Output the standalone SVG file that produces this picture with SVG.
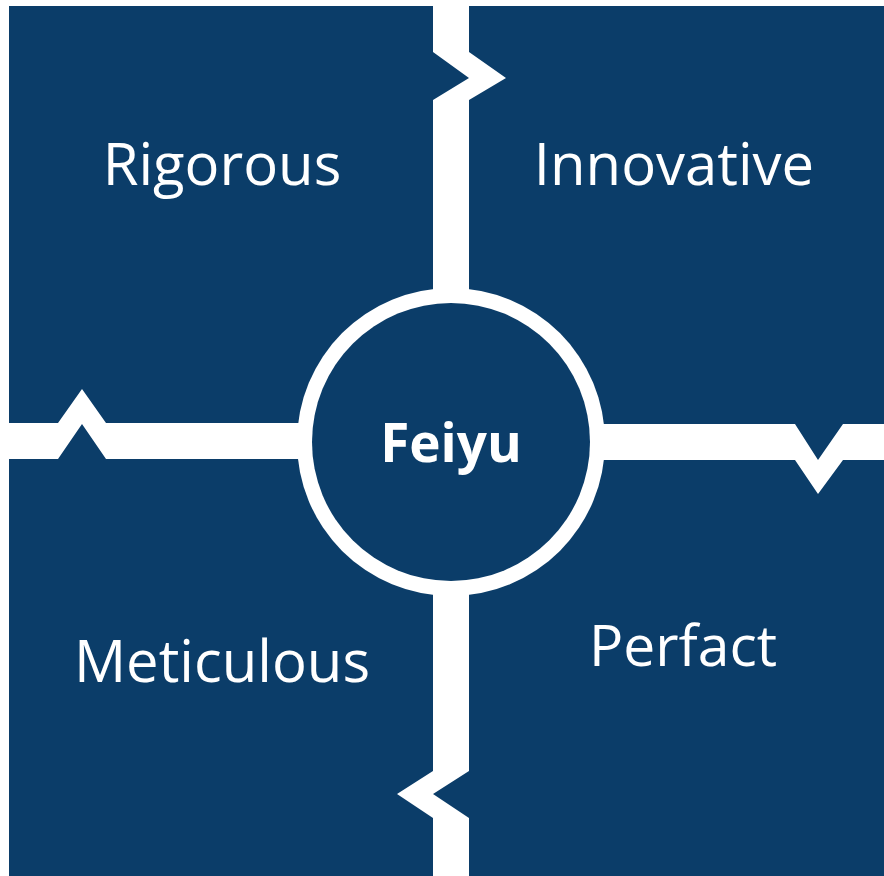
<svg xmlns="http://www.w3.org/2000/svg" width="884" height="876" viewBox="0 0 884 876">
  <style>
    .panel { fill: #0b3d69; }
    .lbl { fill: #ffffff; font-family: "Open Sans", "Noto Sans", "Liberation Sans", sans-serif; font-size: 58px; text-anchor: middle; }
    .hub { fill: #ffffff; font-family: "Open Sans", "Noto Sans", "Liberation Sans", sans-serif; font-size: 53px; font-weight: bold; text-anchor: middle; }
  </style>
  <rect width="884" height="876" fill="#ffffff"/>
  <g id="rigorous">
    <path class="panel" d="M9,6 H433 V52 L469,78 L433,100 V423 H106 L82,389 L58,423 H9 Z"/>
    <text class="lbl" x="222" y="185">Rigorous</text>
  </g>
  <g id="innovative">
    <path class="panel" d="M469,6 H884 V424 H843 L818,460 L795,424 H469 V100 L506,78 L469,52 Z"/>
    <text class="lbl" x="674" y="185">Innovative</text>
  </g>
  <g id="meticulous">
    <path class="panel" d="M9,459 H58 L82,424 L106,459 H433 V771 L397,794 L433,818 V876 H9 Z"/>
    <text class="lbl" x="222" y="682">Meticulous</text>
  </g>
  <g id="perfact">
    <path class="panel" d="M469,460 H795 L818,494 L843,460 H884 V876 H469 V818 L433,794 L469,771 Z"/>
    <text class="lbl" x="683" y="666" style="font-size:57px">Perfact</text>
  </g>
  <g id="connectors"></g>
  <g id="feiyu">
    <circle cx="451" cy="442" r="154" fill="#ffffff"/>
    <circle class="panel" cx="451" cy="442" r="139"/>
    <text class="hub" x="451" y="462">Feiyu</text>
  </g>
</svg>
